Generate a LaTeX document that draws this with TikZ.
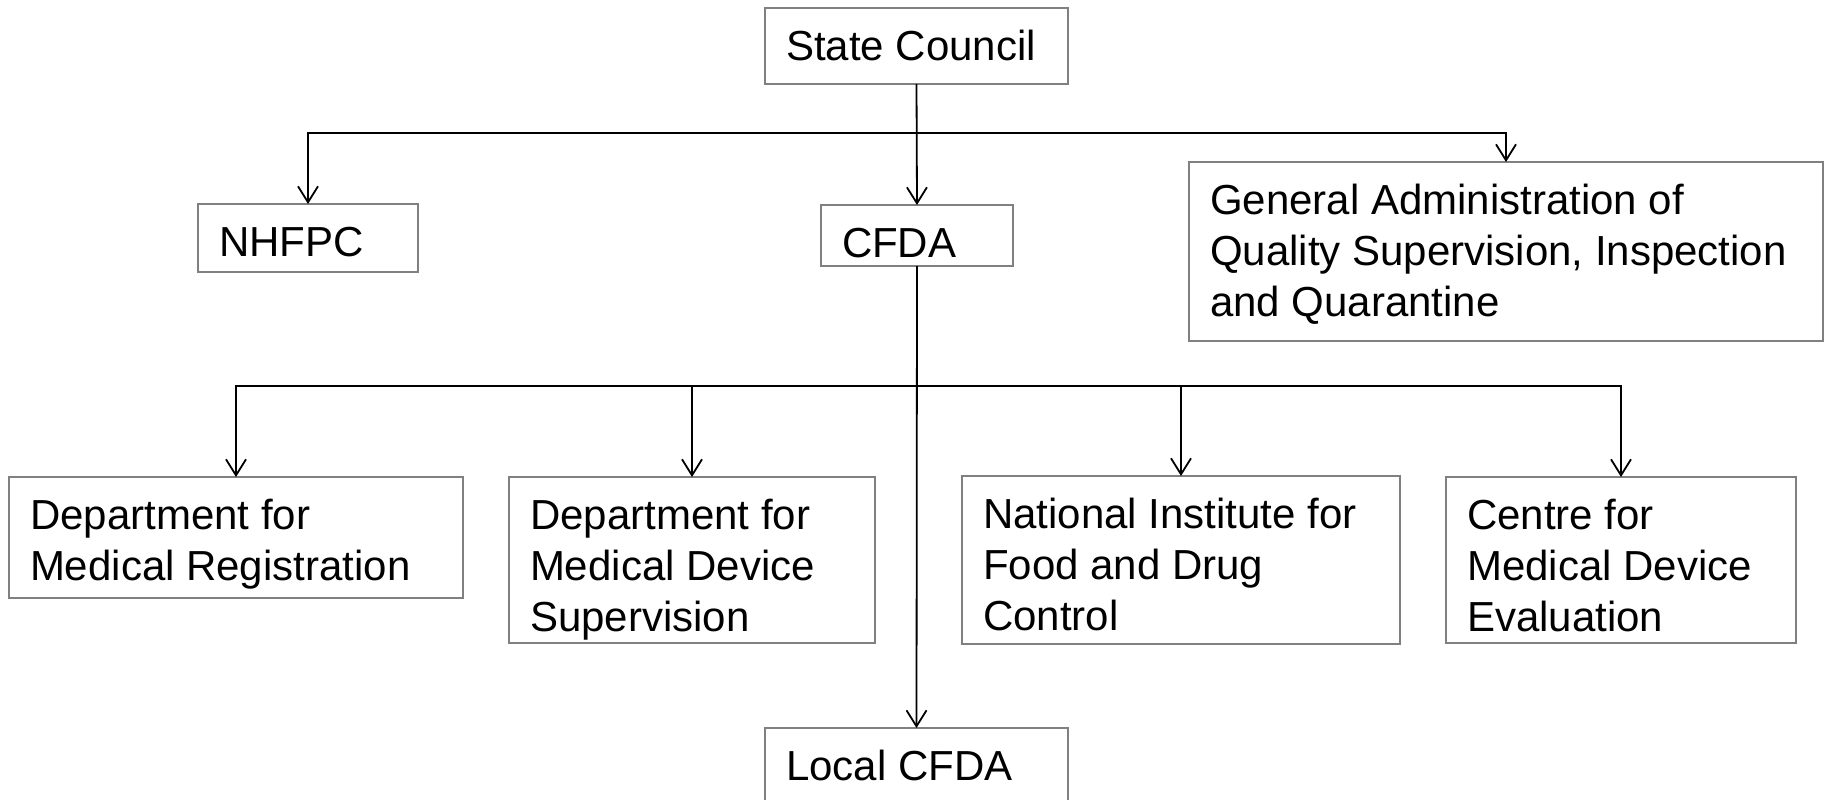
\documentclass[tikz,border=0pt]{standalone}
\usepackage{fontspec}
\setmainfont{Liberation Sans}
\usetikzlibrary{arrows.meta}
\definecolor{boxgray}{RGB}{128,128,128}
\newcommand{\boxtext}[3]{\parbox[c][#2pt][t]{#1pt}{\raggedright\rule{0pt}{52pt}#3}}
\begin{document}
\begin{tikzpicture}[x=1pt,y=-1pt,
  box/.style={draw=boxgray,line width=1.8pt,anchor=north west,outer sep=0pt,
    inner xsep=21pt,inner ysep=0pt,font=\fontsize{42}{51}\selectfont},
  conn/.style={line width=1.8pt,black},
  arr/.style={conn,-{Straight Barb[length=16pt,width=20pt]}},
  arrs/.style={conn,{Straight Barb[length=16pt,width=20pt]}-{Straight Barb[length=16pt,width=20pt]}}]
\useasboundingbox (0,0) rectangle (1829,800);
\clip (0,0) rectangle (1829,800);
\fill[white] (0,0) rectangle (1829,800);
\node[box] (sc) at (765,8) {\boxtext{261}{76}{State Council}};
\node[box] (nhfpc) at (198,204) {\boxtext{178}{68}{NHFPC}};
\node[box] (cfda) at (821,205) {\boxtext{150}{61}{CFDA}};
\node[box] (gaq) at (1189,162) {\boxtext{592}{179}{General Administration of\\Quality Supervision, Inspection\\and Quarantine}};
\node[box] (dmr) at (9,477) {\boxtext{412}{121}{Department for\\Medical Registration}};
\node[box] (dmds) at (509,477) {\boxtext{324}{166}{Department for\\Medical Device\\Supervision}};
\node[box] (nifdc) at (962,476) {\boxtext{396}{168}{National Institute for\\Food and Drug\\Control}};
\node[box] (cmde) at (1446,477) {\boxtext{308}{166}{Centre for\\Medical Device\\Evaluation}};
\node[box] (local) at (765,728) {\boxtext{261}{76}{Local CFDA}};
\coordinate (j1) at (917,133);
\coordinate (j2) at (917,386);
\draw[arr] (sc.south) -- (cfda.north);
\draw[arrs] (nhfpc.north) -- (nhfpc.north |- j1) -- (gaq.north |- j1) -- (gaq.north);
\draw[arr] (cfda.south) -- (local.north);
\draw[arrs] (dmr.north) -- (dmr.north |- j2) -- (cmde.north |- j2) -- (cmde.north);
\draw[arr] (dmds.north |- j2) -- (dmds.north);
\draw[arr] (nifdc.north |- j2) -- (nifdc.north);
\end{tikzpicture}
\end{document}
